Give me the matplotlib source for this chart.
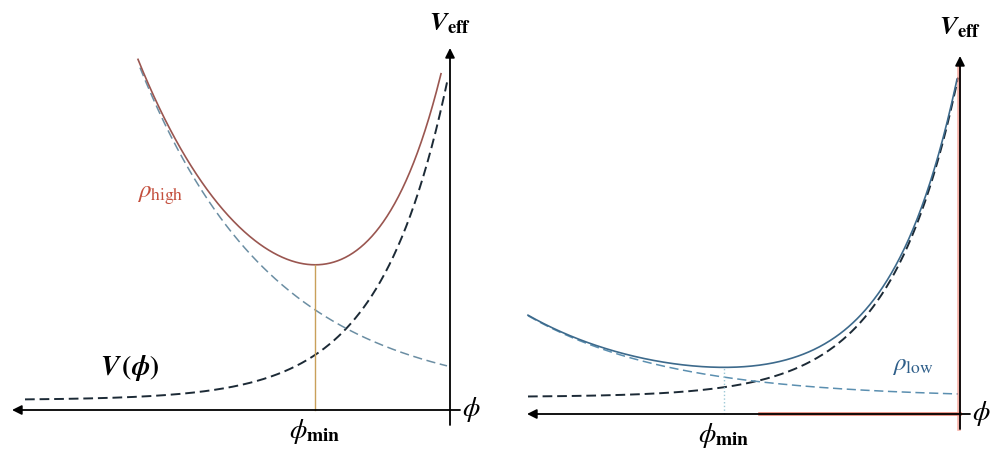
import numpy as np
import matplotlib.pyplot as plt

# chameleon effective potential, two densities (phi grows to the left)
panels = ['high', 'low']
rho_labels = [r'$\rho_{\mathrm{high}}$', r'$\rho_{\mathrm{low}}$']
# V(phi) = floor + amp * exp(-rate * phi)
pot_amp = [3.32, 3.29]
pot_rate = [1.48, 1.49]
pot_floor = [0.10, 0.17]
# density term = floor + amp * exp(rate * phi)
rho_amp = [0.324, 0.040]
rho_rate = [0.75, 0.70]
rho_floor = [0.11, 0.16]
# phi range drawn for each curve: (far end, near end)
pot_range = [(4.25, 0.03), (4.32, 0.02)]
rho_range = [(3.10, 0.03), (4.32, 0.02)]
tot_range = [(3.12, 0.09), (4.32, 0.03)]

plt.rcParams['mathtext.fontset'] = 'stix'

fig = plt.figure(figsize=(9.94, 4.5), dpi=100)

ax_pos = [[0.0, 0.0, 0.5, 1.0], [0.5, 0.0, 0.5, 1.0]]
xlims = [(4.5, -0.47), (4.63, -0.34)]
ylims = [(-0.40, 4.10), (-0.36, 4.14)]
haxis_end = [4.38, 4.33]
vaxis_top = [3.62, 3.58]

tot_col = ['#9a5650', '#3d6a8c']
rho_col = ['#6b8ea3', '#5b8fb0']
pot_col = ['#1c2a36', '#1c2a36']
min_col = ['#c9a05a', '#9cc8d6']
lab_col = ['#c4503e', '#2f5f8a']
rho_lab_pos = [(2.9, 2.15), (0.47, 0.49)]

for i, name in enumerate(panels):
    ax = fig.add_axes(ax_pos[i])
    ax.set_xlim(*xlims[i])
    ax.set_ylim(*ylims[i])
    ax.axis('off')

    def pot(p):
        return pot_floor[i] + pot_amp[i] * np.exp(-pot_rate[i] * p)

    def rho(p):
        return rho_floor[i] + rho_amp[i] * np.exp(rho_rate[i] * p)

    p = np.linspace(*pot_range[i], 300)
    ax.plot(p, pot(p), color=pot_col[i], lw=1.4, dashes=(5, 2.5))
    p = np.linspace(*rho_range[i], 300)
    ax.plot(p, rho(p), color=rho_col[i], lw=1.1, dashes=(6, 3))
    p = np.linspace(*tot_range[i], 400)
    tot = pot(p) - pot_floor[i] + rho(p)
    ax.plot(p, tot, color=tot_col[i], lw=1.2)

    k = np.argmin(tot)
    ax.plot([p[k], p[k]], [0, tot[k]], color=min_col[i], lw=1.0,
            ls='-' if i == 0 else ':')

    # axes
    if i == 1:
        ax.plot([0, 2.0], [0, 0], color='#e0604e', lw=2.6, alpha=0.8, zorder=3)
        ax.plot([0.01, 0.01], [-0.15, vaxis_top[i] - 0.1], color='#f08070', lw=2.6,
                alpha=0.6, zorder=3)
    ax.annotate('', xy=(haxis_end[i], 0), xytext=(-0.1, 0),
                arrowprops=dict(arrowstyle='-|>', lw=1.3, color='black', mutation_scale=14,
                                shrinkA=0, shrinkB=0), zorder=4)
    ax.annotate('', xy=(0, vaxis_top[i]), xytext=(0, -0.15),
                arrowprops=dict(arrowstyle='-|>', lw=1.3, color='black', mutation_scale=14,
                                shrinkA=0, shrinkB=0), zorder=4)

    ax.text(-0.12, 0, r'$\phi$', fontsize=20, ha='left', va='center')
    ax.text(0.0, 3.87, r'$\mathbfit{V}_{\mathbf{eff}}$', fontsize=19, ha='center', va='center')
    ax.text(p[k], -0.22, r'$\phi_{\mathbf{min}}$', fontsize=20, ha='center', va='center')
    ax.text(*rho_lab_pos[i], rho_labels[i], fontsize=18, color=lab_col[i],
            ha='center', va='center')
    if i == 0:
        ax.text(3.2, 0.42, r'$\mathbfit{V}\,\mathbf{(}\mathbfit{\phi}\mathbf{)}$', fontsize=20,
                ha='center', va='center')

fig.savefig('out.png', dpi=100)
